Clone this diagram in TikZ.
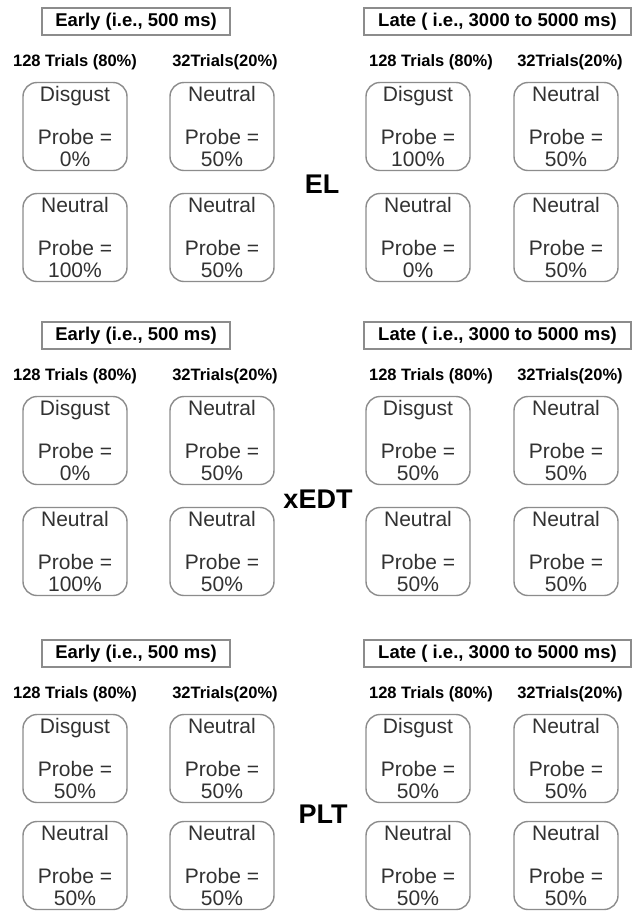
\documentclass[tikz,border=0pt]{standalone}
\usepackage{fontspec}
\setmainfont{Liberation Sans}
\definecolor{boxgray}{RGB}{140,140,140}
\definecolor{txtgray}{RGB}{50,50,50}
\tikzset{
 cellbox/.style={draw=boxgray, line width=1.4pt, rounded corners=14pt, minimum width=104pt, minimum height=88pt, inner sep=0pt, align=center, text=txtgray, font=\fontsize{21}{21.5}\selectfont},
 hdrbox/.style={draw=boxgray, line width=1.3pt, minimum height=27pt, inner sep=0pt, font=\bfseries\fontsize{18.5}{20}\selectfont},
 trials/.style={font=\bfseries\fontsize{16.5}{18}\selectfont, inner sep=0pt},
 biglabel/.style={font=\bfseries\fontsize{27}{30}\selectfont, inner sep=0pt}
}
\newcommand\mkcell[5]{\node[cellbox] (#1) at (#2,#3) {#4\\[21.5pt]Probe =\\#5};}
\newcommand\mkhead[3]{%
  \node[hdrbox, minimum width=188pt] (#1e) at (136,#2) {Early (i.e., 500 ms)};
  \node[hdrbox, minimum width=267pt] (#1l) at (497.5,#2) {Late ( i.e., 3000 to 5000 ms)};
  \node[trials] (#1t1) at (75,#3) {128 Trials (80\%)};
  \node[trials] (#1t2) at (225,#3) {32Trials(20\%)};
  \node[trials] (#1t3) at (431,#3) {128 Trials (80\%)};
  \node[trials] (#1t4) at (570,#3) {32Trials(20\%)};
}
\begin{document}
\begin{tikzpicture}[x=1pt,y=-1pt]
\fill[white] (0,0) rectangle (632,911);
\useasboundingbox (0,0) rectangle (632,911);
% ---- EL ----
\mkhead{a}{21.5}{62}
\mkcell{a11}{75}{126.5}{Disgust}{0\%}
\mkcell{a12}{222}{126.5}{Neutral}{50\%}
\mkcell{a13}{418}{126.5}{Disgust}{100\%}
\mkcell{a14}{566}{126.5}{Neutral}{50\%}
\mkcell{a21}{75}{237.5}{Neutral}{100\%}
\mkcell{a22}{222}{237.5}{Neutral}{50\%}
\mkcell{a23}{418}{237.5}{Neutral}{0\%}
\mkcell{a24}{566}{237.5}{Neutral}{50\%}
\node[biglabel] (el) at (322,184) {EL};
% ---- xEDT ----
\mkhead{b}{335.5}{376}
\mkcell{b11}{75}{440.5}{Disgust}{0\%}
\mkcell{b12}{222}{440.5}{Neutral}{50\%}
\mkcell{b13}{418}{440.5}{Disgust}{50\%}
\mkcell{b14}{566}{440.5}{Neutral}{50\%}
\mkcell{b21}{75}{551.5}{Neutral}{100\%}
\mkcell{b22}{222}{551.5}{Neutral}{50\%}
\mkcell{b23}{418}{551.5}{Neutral}{50\%}
\mkcell{b24}{566}{551.5}{Neutral}{50\%}
\node[biglabel] (xedt) at (318,499) {xEDT};
% ---- PLT ----
\mkhead{c}{653.5}{694}
\mkcell{c11}{75}{758.5}{Disgust}{50\%}
\mkcell{c12}{222}{758.5}{Neutral}{50\%}
\mkcell{c13}{418}{758.5}{Disgust}{50\%}
\mkcell{c14}{566}{758.5}{Neutral}{50\%}
\mkcell{c21}{75}{865.5}{Neutral}{50\%}
\mkcell{c22}{222}{865.5}{Neutral}{50\%}
\mkcell{c23}{418}{865.5}{Neutral}{50\%}
\mkcell{c24}{566}{865.5}{Neutral}{50\%}
\node[biglabel] (plt) at (323,814) {PLT};
\end{tikzpicture}
\end{document}
